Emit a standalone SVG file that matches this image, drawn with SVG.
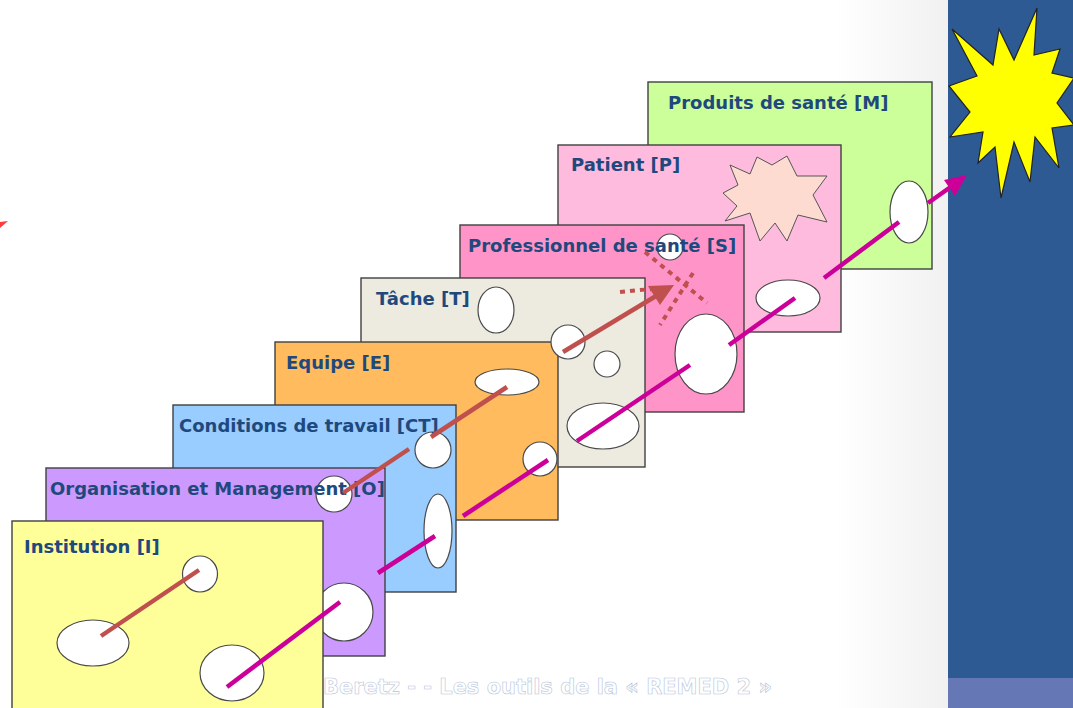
<svg xmlns="http://www.w3.org/2000/svg" width="1073" height="708" viewBox="0 0 1073 708">
<defs>
<linearGradient id="bg" x1="0" y1="0" x2="1" y2="0">
<stop offset="0" stop-color="#FFFFFF"/>
<stop offset="0.88" stop-color="#FFFFFF"/>
<stop offset="1" stop-color="#F1F1F1"/>
</linearGradient>
<style>
.card{stroke:#404040;stroke-width:1.4}
.hole{fill:#FFFFFF;stroke:#4A4A4A;stroke-width:1.2}
.lbl{font-family:"DejaVu Sans",Verdana,sans-serif;font-weight:bold;font-size:18px;fill:#1F497D}
.br{stroke:#C0504D;stroke-width:4.5;fill:none}
.mg{stroke:#CC0099;stroke-width:4.5;fill:none}
.dot{stroke:#C0504D;stroke-width:4;fill:none;stroke-dasharray:5 5}
</style>
</defs>
<rect x="0" y="0" width="948" height="708" fill="url(#bg)"/>
<rect x="948" y="0" width="125" height="678" fill="#2E5A94"/>
<rect x="948" y="678" width="125" height="30" fill="#6577B4"/>
<polygon points="0,222 8,221 0,228" fill="#FF3B3B"/>
<g id="sun">
<polygon points="1037,8 1034,55 1060,49 1052,73 1074,78 1057,103 1074,125 1052,128 1059,168 1035,137 1030,182 1014,142 1001,198 995,147 978,163 983,132 950,137 970,112 949,86 977,76 952,29 993,65 999,29 1014,60" fill="#FFFF00" stroke="#222" stroke-width="1.2"/>
</g>
<text x="323" y="694" font-family="DejaVu Sans,Verdana,sans-serif" font-weight="bold" font-size="21" fill="#FFFFFF" stroke="#B8C4D8" stroke-width="0.6" textLength="449" lengthAdjust="spacing">Beretz - - Les outils de la « REMED 2 »</text>

<g id="card-M">
<rect class="card" x="648" y="82" width="284" height="187" fill="#CCFF99"/>
<ellipse class="hole" cx="909" cy="212" rx="19" ry="31"/>
<text class="lbl" x="668" y="109">Produits de santé [M]</text>
</g>
<g id="card-P">
<rect class="card" x="558" y="145" width="283" height="187" fill="#FFBBDD"/>
<polygon points="730,165 750,174 757,157 772,165 787,156 797,176 827,176 813,195 827,222 798,215 787,241 775,223 760,241 750,213 725,221 737,206 723,193 738,185" fill="#FDDBD0" stroke="#555" stroke-width="1"/>
<ellipse class="hole" cx="788" cy="298" rx="32" ry="18"/>
<text class="lbl" x="571" y="171">Patient [P]</text>
</g>
<g id="card-S">
<rect class="card" x="460" y="225" width="284" height="187" fill="#FF94C8"/>
<ellipse class="hole" cx="670" cy="247" rx="13" ry="13"/>
<ellipse class="hole" cx="706" cy="354" rx="31" ry="40"/>
<text class="lbl" x="468" y="252">Professionnel de santé [S]</text>
</g>
<g id="card-T">
<rect class="card" x="361" y="278" width="284" height="189" fill="#EDEBE0"/>
<ellipse class="hole" cx="496" cy="310" rx="18" ry="23"/>
<ellipse class="hole" cx="607" cy="364" rx="13" ry="13"/>
<ellipse class="hole" cx="603" cy="426" rx="36" ry="23"/>
<text class="lbl" x="376" y="305">Tâche [T]</text>
</g>
<g id="card-E">
<rect class="card" x="275" y="342" width="283" height="178" fill="#FFBB5E"/>
<ellipse class="hole" cx="507" cy="382" rx="32" ry="13"/>
<ellipse class="hole" cx="540" cy="459" rx="17" ry="17"/>
<ellipse class="hole" cx="568" cy="342" rx="17" ry="17"/>
<text class="lbl" x="286" y="369">Equipe [E]</text>
</g>
<g id="card-CT">
<rect class="card" x="173" y="405" width="283" height="187" fill="#99CCFF"/>
<ellipse class="hole" cx="433" cy="450" rx="18" ry="18"/>
<ellipse class="hole" cx="438" cy="531" rx="14" ry="37"/>
<text class="lbl" x="179" y="432">Conditions de travail [CT]</text>
</g>
<g id="card-O">
<rect class="card" x="46" y="468" width="339" height="188" fill="#CC99FF"/>
<ellipse class="hole" cx="344" cy="612" rx="29" ry="29"/>
<ellipse class="hole" cx="334" cy="494" rx="18" ry="18"/>
<text class="lbl" x="50" y="495">Organisation et Management [O]</text>
</g>
<g id="card-I">
<rect class="card" x="12" y="521" width="311" height="200" fill="#FFFF99"/>
<ellipse class="hole" cx="200" cy="574" rx="17.5" ry="18"/>
<ellipse class="hole" cx="93" cy="643" rx="36" ry="23"/>
<ellipse class="hole" cx="232" cy="673" rx="32" ry="28"/>
<text class="lbl" x="24" y="553">Institution [I]</text>
</g>

<g id="connectors">
<line class="br" x1="101" y1="636" x2="199" y2="570"/>
<line class="br" x1="343" y1="493" x2="409" y2="449"/>
<line class="br" x1="431" y1="437" x2="507" y2="387"/>
<line class="br" x1="563" y1="352" x2="656" y2="296"/>
<polygon points="674,285 648,286 660,305" fill="#C0504D"/>
<line class="dot" x1="620" y1="292" x2="662" y2="288"/>
<line class="dot" x1="645" y1="252" x2="707" y2="303"/>
<line class="dot" x1="693" y1="273" x2="660" y2="325"/>
<line class="mg" x1="227" y1="687" x2="340" y2="602"/>
<line class="mg" x1="378" y1="573" x2="435" y2="536"/>
<line class="mg" x1="463" y1="516" x2="548" y2="460"/>
<line class="mg" x1="577" y1="441" x2="690" y2="365"/>
<line class="mg" x1="729" y1="345" x2="795" y2="298"/>
<line class="mg" x1="824" y1="278" x2="899" y2="222"/>
<line class="mg" x1="928" y1="203" x2="952" y2="186"/>
<polygon points="967,175 944,180 955,196" fill="#CC0099"/>
</g>
</svg>
